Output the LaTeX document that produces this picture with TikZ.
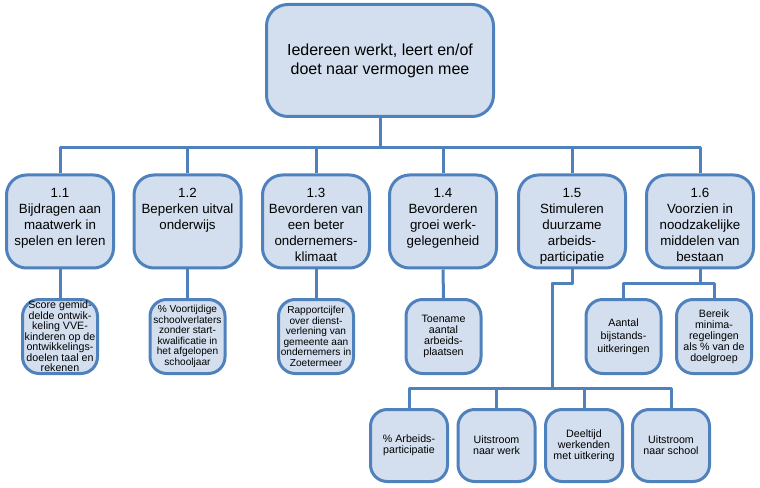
\documentclass[tikz,border=0pt]{standalone}
\usepackage{fontspec}
\setmainfont{Liberation Sans}
\usetikzlibrary{positioning}
\definecolor{vien}{RGB}{79,129,189}
\definecolor{nen}{RGB}{211,223,238}

\begin{document}
\begin{tikzpicture}[x=0.75pt,y=-0.75pt,line join=round,
lijn/.style={draw=vien,line width=2.25pt},
hoofd/.style={lijn,fill=nen,rounded corners=16pt,minimum width=170.25pt,minimum height=84pt,
  align=center,font=\fontsize{12}{14.3}\selectfont},
doel/.style={lijn,fill=nen,rounded corners=15pt,minimum width=80.25pt,minimum height=69.75pt},
doeltekst/.style={inner sep=0pt,align=center,font=\fontsize{10}{12}\selectfont},
ind/.style={lijn,fill=nen,rounded corners=12.5pt,minimum width=56.25pt,minimum height=55.5pt,
  inner sep=0pt,align=center,font=\fontsize{8}{8.2}\selectfont},
indb/.style={ind,minimum width=57.75pt,minimum height=54pt}]
\useasboundingbox (0,0) rectangle (760,488);
% Hộp trên cùng
\node[hoofd] (top) at (380,60.5) {Iedereen werkt, leert en/of\\doet naar vermogen mee};
% Các hộp mục tiêu
\node[doel] (d11) at (60,221.5) {};
\node[doel] (d12) at (187.5,221.5) {};
\node[doel] (d13) at (316,221.5) {};
\node[doel] (d14) at (443,221.5) {};
\node[doel] (d15) at (572,221.5) {};
\node[doel] (d16) at (700,221.5) {};
\node[doeltekst, below=11pt of d11.north] (t11) {1.1\\Bijdragen aan\\maatwerk in\\spelen en leren};
\node[doeltekst, below=11pt of d12.north] (t12) {1.2\\Beperken uitval\\onderwijs};
\node[doeltekst, below=11pt of d13.north] (t13) {1.3\\Bevorderen van\\een beter\\ondernemers-\\klimaat};
\node[doeltekst, below=11pt of d14.north] (t14) {1.4\\Bevorderen\\groei werk-\\gelegenheid};
\node[doeltekst, below=11pt of d15.north] (t15) {1.5\\Stimuleren\\duurzame\\arbeids-\\participatie};
\node[doeltekst, below=11pt of d16.north] (t16) {1.6\\Voorzien in\\noodzakelijke\\middelen van\\bestaan};
% Các chỉ số
\node[ind,font=\fontsize{8}{7.9}\selectfont] (i11) at (60,336.5) {Score gemid-\\delde ontwik-\\keling VVE-\\kinderen op de\\ontwikkelings-\\doelen taal en\\rekenen};
\node[ind,font=\fontsize{7.6}{7.9}\selectfont] (i12) at (187.5,336.5) {\% Voortijdige\\schoolverlaters\\zonder start-\\kwalificatie in\\het afgelopen\\schooljaar};
\node[ind,font=\fontsize{7.6}{7.9}\selectfont] (i13) at (316,336.5) {Rapportcijfer\\over dienst-\\verlening van\\gemeente aan\\ondernemers in\\Zoetermeer};
\node[ind] (i14) at (443.5,336.5) {Toename\\aantal\\arbeids-\\plaatsen};
\node[ind,font=\fontsize{8}{9.6}\selectfont] (i16a) at (623.5,336.5) {Aantal\\bijstands-\\uitkeringen};
\node[ind] (i16b) at (714,336.5) {Bereik\\minima-\\regelingen\\als \% van de\\doelgroep};
\node[indb] (b1) at (409,445.5) {\% Arbeids-\\participatie};
\node[indb] (b2) at (496.5,445.5) {Uitstroom\\naar werk};
\node[indb] (b3) at (584,445.5) {Deeltijd\\werkenden\\met uitkering};
\node[indb] (b4) at (671,445.5) {Uitstroom\\naar school};
% Các đường nối
\coordinate (bus) at (380,148);
\foreach \n in {d11,d12,d13,d14,d15,d16}
\draw[lijn] (top.south) |- (bus) -| (\n.north);
\foreach \a/\b in {d11/i11,d12/i12,d13/i13,d14/i14}
\draw[lijn] (\a.south) -- (\b.north);
\coordinate (k16) at (700,284);
\draw[lijn] (d16.south) -- (k16) -| (i16a.north);
\draw[lijn] (d16.south) -- (k16) -| (i16b.north);
\coordinate (k15a) at (552,284);
\coordinate (k15b) at (552,388);
\foreach \n in {b1,b2,b3,b4}
\draw[lijn] (d15.south) |- (k15a) -- (k15b) -| (\n.north);
\end{tikzpicture}
\end{document}
